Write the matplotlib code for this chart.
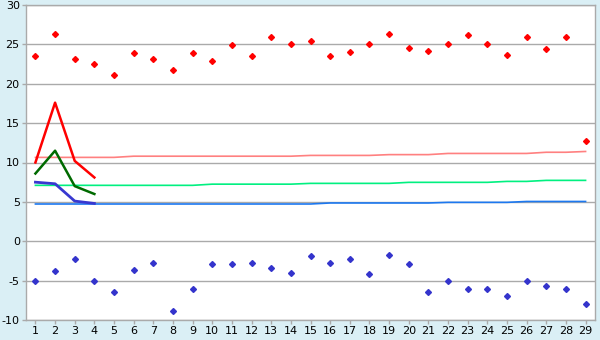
import numpy as np
import matplotlib
matplotlib.use('Agg')
import matplotlib.pyplot as plt

# ============================================================
#  Data
# ============================================================

days = list(range(1, 30))

t_max = [23.5, 26.3, 23.1, 22.5, 21.1, 23.9, 23.2, 21.8, 23.9, 22.9,
         24.9, 23.5, 26.0, 25.0, 25.4, 23.5, 24.0, 25.0, 26.3, 24.6,
         24.1, 25.0, 26.2, 25.0, 23.6, 26.0, 24.4, 26.0, 12.7]

t_min = [-5.0, -3.8, -2.2, -5.0, -6.4, -3.7, -2.7, -8.9, -6.0, -2.9,
         -2.9, -2.8, -3.4, -4.0, -1.9, -2.7, -2.3, -4.2, -1.7, -2.9,
         -6.5, -5.0, -6.0, -6.0, -7.0, -5.0, -5.7, -6.0, -8.0]

# short forecast series (days 1-4)
fc_days = [1, 2, 3, 4]
fc_max = [10.0, 17.6, 10.2, 8.1]
fc_mean = [8.6, 11.5, 7.0, 6.0]
fc_min = [7.5, 7.3, 5.1, 4.8]

# climate normals
norm_max = [10.65, 10.65, 10.65, 10.65, 10.65, 10.8, 10.8, 10.8, 10.8, 10.8,
            10.8, 10.8, 10.8, 10.8, 10.9, 10.9, 10.9, 10.9, 11.0, 11.0,
            11.0, 11.15, 11.15, 11.15, 11.15, 11.15, 11.3, 11.3, 11.4]
norm_mean = [7.1, 7.1, 7.1, 7.1, 7.1, 7.1, 7.1, 7.1, 7.1, 7.25,
             7.25, 7.25, 7.25, 7.25, 7.35, 7.35, 7.35, 7.35, 7.35, 7.48,
             7.48, 7.48, 7.48, 7.48, 7.6, 7.6, 7.73, 7.73, 7.73]
norm_min = [4.73, 4.73, 4.73, 4.73, 4.73, 4.73, 4.73, 4.73, 4.73, 4.73,
            4.73, 4.73, 4.73, 4.73, 4.73, 4.86, 4.86, 4.86, 4.86, 4.86,
            4.86, 4.94, 4.94, 4.94, 4.94, 5.05, 5.05, 5.05, 5.05]

y_ticks = [-10, -5, 0, 5, 10, 15, 20, 25, 30]

# ============================================================
#  Plot
# ============================================================

plt.rcParams['axes.unicode_minus'] = False

bg = '#daeff5'
grid_c = '#aaaaaa'

fig = plt.figure(figsize=(6.0, 3.4), dpi=100, facecolor=bg)
ax = fig.add_axes([26 / 600, 1 - 320 / 340, 569 / 600, 315 / 340])
ax.set_facecolor('white')

ax.set_xlim(0.52, 29.48)
ax.set_ylim(-10, 30)
ax.set_yticks(y_ticks)
ax.set_xticks(days)
ax.yaxis.grid(True, color=grid_c, lw=1.0)
ax.set_axisbelow(True)

for s in ax.spines.values():
    s.set_color(grid_c)
    s.set_linewidth(1.0)

ax.tick_params(axis='both', colors=grid_c, labelcolor='black',
               labelsize=8, length=3, width=1, pad=1.5)

# normals
ax.plot(days, norm_max, color='#ff8080', lw=1.2)
ax.plot(days, norm_mean, color='#00f080', lw=1.2)
ax.plot(days, norm_min, color='#1c78f0', lw=1.2)

# forecast lines
ax.plot(fc_days, fc_max, color='#ff0000', lw=1.8)
ax.plot(fc_days, fc_mean, color='#006a00', lw=1.8)
ax.plot(fc_days, fc_min, color='#3838d0', lw=2.0)

# observed max/min
ax.plot(days, t_max, ls='none', marker='D', ms=3.0, color='#ff0000')
ax.plot(days, t_min, ls='none', marker='D', ms=3.0, color='#3434cc')

fig.savefig('out.png', dpi=100, facecolor=bg)
